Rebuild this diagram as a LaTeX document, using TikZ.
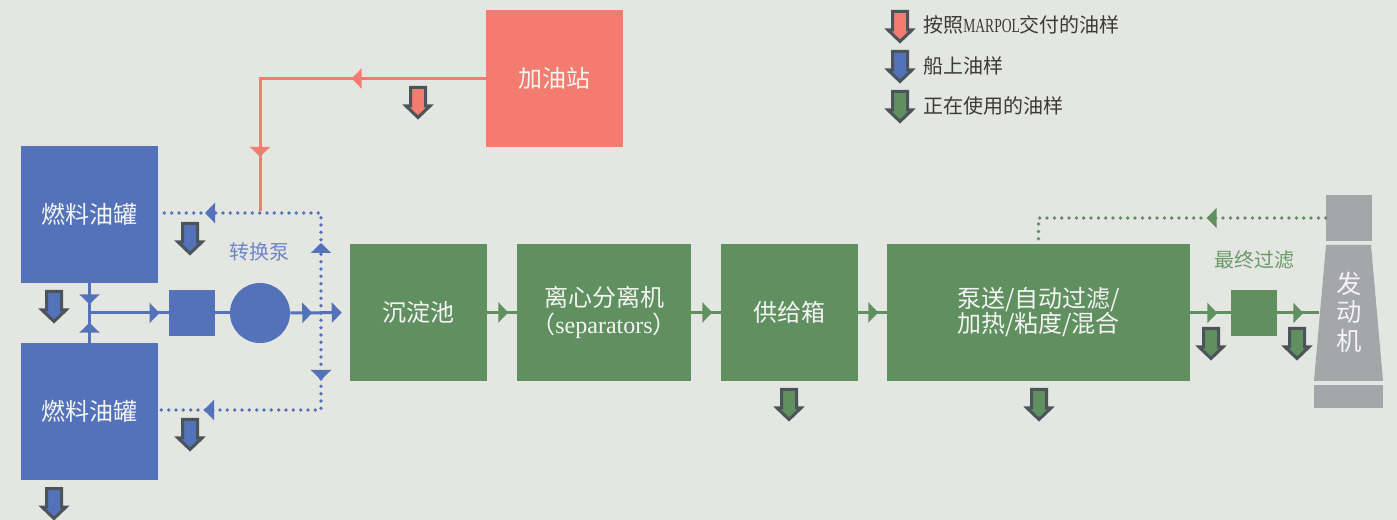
\documentclass[tikz,border=0pt]{standalone}
\usepackage{fontspec}
\setmainfont{Liberation Serif}
\newfontfamily\cjk{Noto Sans CJK SC}
\usetikzlibrary{arrows.meta,decorations.markings}
\definecolor{bg}{HTML}{E4E6E1}
\definecolor{tblue}{HTML}{5472B9}
\definecolor{torange}{HTML}{F47B6F}
\definecolor{tgreen}{HTML}{609060}
\definecolor{tgray}{HTML}{A4A6A9}
\definecolor{iconline}{HTML}{4B535B}
\definecolor{boxtxt}{HTML}{F4F4F4}
\definecolor{legtxt}{HTML}{3A3A3A}
\definecolor{lblblue}{HTML}{6F86C6}
\definecolor{lblgreen}{HTML}{6A9A6A}
\tikzset{
  mytri/.tip={Triangle[length=7.5pt,width=15pt]},
  marr/.style={postaction={decorate,decoration={markings,mark=at position #1 with {\arrow{mytri}}}}},
  box/.style={inner sep=0pt, text=boxtxt, font=\cjk\fontsize{18pt}{22pt}\selectfont, align=center},
  sqbox/.style={box, minimum width=102.75pt, minimum height=102.75pt},
  solidline/.style={line width=2.25pt},
  dotline/.style={line width=2.8pt, line cap=round, dash pattern=on 0pt off 5.5pt},
  legend/.style={anchor=west, inner sep=0pt, text=legtxt, font=\cjk\fontsize{15pt}{18pt}\selectfont},
  pics/smp/.style={code={
    \draw[line width=2.25pt, draw=iconline, fill=#1, line join=miter]
      (-7.5,1.5) -- (7.5,1.5) -- (7.5,20) -- (12,20) -- (0,31.5) -- (-12,20) -- (-7.5,20) -- cycle;
  }},
}
\begin{document}
\begin{tikzpicture}[x=0.75pt,y=-0.75pt]
\useasboundingbox (0,0) rectangle (1397,520);
\fill[bg] (0,0) rectangle (1397,520);
\clip (0,0) rectangle (1397,520);

% --- boxes ---
\node[sqbox, fill=tblue] (tank1) at (89.5,214.5) {燃料油罐};
\node[sqbox, fill=tblue] (tank2) at (89.5,411.5) {燃料油罐};
\node[sqbox, fill=torange] (station) at (554.5,78.5) {加油站};
\node[inner sep=0pt, minimum size=34.5pt, fill=tblue] (sq1) at (192,313) {};
\node[circle, inner sep=0pt, minimum size=45pt, fill=tblue] (pump) at (260,313) {};
\node[text=lblblue, font=\cjk\fontsize{15pt}{18pt}\selectfont, inner sep=0pt] (pumplbl) at (259,252) {转换泵};

\node[sqbox, fill=tgreen] (settle) at (418.5,312.5) {沉淀池};
\node[box, fill=tgreen, minimum width=130.5pt, minimum height=102.75pt] (centri) at (604,312.5)
  {离心分离机\\[-2pt]（{\rmfamily separators}）};
\node[sqbox, fill=tgreen] (supply) at (789.5,312.5) {供给箱};
\node[box, fill=tgreen, minimum width=227.25pt, minimum height=102.75pt, font=\cjk\fontsize{18pt}{18.75pt}\selectfont] (pumpbox) at (1038.5,312.5)
  {泵送/自动过滤/\\加热/粘度/混合};
\node[inner sep=0pt, minimum size=34.5pt, fill=tgreen] (sq2) at (1254,313) {};
\node[text=lblgreen, font=\cjk\fontsize{15pt}{18pt}\selectfont, inner sep=0pt] (filterlbl) at (1254,260) {最终过滤};

% --- engine ---
\node[inner sep=0pt, minimum size=34.5pt, fill=tgray] (engtop) at (1349,218) {};
\fill[tgray] (1326,245) -- (1371,245) -- (1383,381) -- (1314,381) -- cycle;
\node[inner sep=0pt, minimum width=51.75pt, minimum height=17.25pt, fill=tgray] (engbot) at (1348.5,396.5) {};
\node[box, font=\cjk\fontsize{19pt}{21.5pt}\selectfont] (eng) at (1349,312) {发\\动\\机};
\coordinate (engin) at (1319,313);

% --- blue supply lines ---
\coordinate (j) at (89.5,313);
\draw[tblue, solidline, marr=15.75pt] (tank1.south) -- (j);
\draw[tblue, solidline, marr=15pt] (tank2.north) -- (j);
\draw[tblue, solidline, marr=52.5pt] (j) -- (sq1.west);
\draw[tblue, solidline] (sq1.east) -- (pump.west);
\draw[tblue, solidline, marr=16.5pt, -mytri, shorten >=6pt] (pump.east) -- (settle.west);

% --- blue dotted return lines ---
\coordinate (dmid) at (321,313);
\coordinate (dtop) at (321,213);
\coordinate (dbot) at (321,410);
\draw[tblue, dotline, marr=52.5pt, marr=162pt] (dmid) -- (dtop) -- (tank1.east |- dtop);
\draw[tblue, dotline, marr=50.25pt, marr=160.5pt] (dmid) -- (dbot) -- (tank2.east |- dbot);

% --- orange bunker line ---
\coordinate (ocorner) at (260,78.5);
\coordinate (oend) at (260,211);
\draw[torange, solidline, marr=100.5pt, marr=228pt] (station.west) -- (ocorner) -- (oend);

% --- green flow ---
\draw[tgreen, solidline, marr=15.75pt] (settle.east) -- (centri.west);
\draw[tgreen, solidline, marr=15.75pt] (centri.east) -- (supply.west);
\draw[tgreen, solidline, marr=15pt] (supply.east) -- (pumpbox.west);
\draw[tgreen, solidline, marr=20.25pt] (pumpbox.east |- sq2.west) -- (sq2.west);
\draw[tgreen, solidline, marr=19.5pt] (sq2.east) -- (engin);
\draw[tgreen, dotline, marr=89.25pt] (engtop.west) -- (pumpbox.north |- engtop.west) -- (pumpbox.north);

% --- sample icons ---
\pic at (190,222) {smp=tblue};
\pic at (54,290) {smp=tblue};
\pic at (190,418) {smp=tblue};
\pic at (54,487) {smp=tblue};
\pic at (418,86) {smp=torange};
\pic at (789,388) {smp=tgreen};
\pic at (1039,388) {smp=tgreen};
\pic at (1211,327) {smp=tgreen};
\pic at (1297,327) {smp=tgreen};

% --- legend ---
\pic at (900,10) {smp=torange};
\pic at (900,50) {smp=tblue};
\pic at (900,90) {smp=tgreen};
\node[legend] (leg1) at (923,25) {按照{\rmfamily\scalebox{0.68}[1]{MARPOL}}交付的油样};
\node[legend] (leg2) at (923,66) {船上油样};
\node[legend] (leg3) at (923,106) {正在使用的油样};
\end{tikzpicture}
\end{document}
